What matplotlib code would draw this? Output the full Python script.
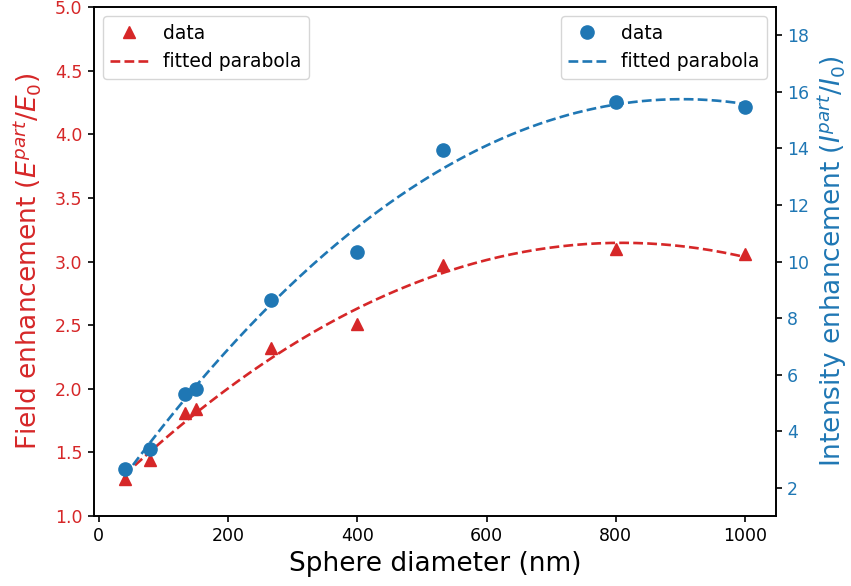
"""Field and intensity enhancement vs sphere diameter, with parabolic fits."""

import numpy as np
import matplotlib
matplotlib.use("Agg")
import matplotlib.pyplot as plt

# sphere diameters (nm)
diameters = [40, 80, 133, 150, 267, 400, 533, 800, 1000]
# field enhancement E_part / E_0
field_enh = [1.29, 1.44, 1.81, 1.84, 2.32, 2.51, 2.97, 3.10, 3.06]
# intensity enhancement I_part / I_0
intensity_enh = [2.65, 3.37, 5.3, 5.5, 8.65, 10.35, 13.95, 15.65, 15.45]

red = "tab:red"
blue = "tab:blue"

x = np.array(diameters)
x_fit = np.linspace(x.min(), x.max(), 200)
field_fit = np.polyval(np.polyfit(x, field_enh, 2), x_fit)
intensity_fit = np.polyval(np.polyfit(x, intensity_enh, 2), x_fit)

plt.rcParams["axes.linewidth"] = 1.2

fig, ax1 = plt.subplots(figsize=(8.51, 5.86), dpi=100)
fig.subplots_adjust(left=0.110, right=0.912, top=0.988, bottom=0.1195)

ax1.plot(x, field_enh, "^", color=red, markersize=8.5, label="data")
ax1.plot(x_fit, field_fit, "--", color=red, lw=1.9, label="fitted parabola")
ax1.set_ylim(1.0, 5.0)
ax1.set_xlabel("Sphere diameter (nm)", fontsize=19)
ax1.set_ylabel(r"Field enhancement ($E^{part}/E_0$)", color=red, fontsize=19, labelpad=8)
ax1.tick_params(axis="y", labelcolor=red, labelsize=12.5, length=4.5, width=1.2)
ax1.tick_params(axis="x", labelsize=12.5, length=4.5, width=1.2)
ax1.legend(loc="upper left", fontsize=13.5)

ax2 = ax1.twinx()
ax2.plot(x, intensity_enh, "o", color=blue, markersize=9.5, label="data")
ax2.plot(x_fit, intensity_fit, "--", color=blue, lw=1.9, label="fitted parabola")
ax2.set_ylim(1.0, 19.0)
ax2.set_yticks(np.arange(2, 19, 2))
ax2.set_ylabel(r"Intensity enhancement ($I^{part}/I_0$)", color=blue, fontsize=19, labelpad=4)
ax2.tick_params(axis="y", labelcolor=blue, labelsize=12.5, length=4.5, width=1.2)
ax2.legend(loc="upper right", fontsize=13.5)

fig.savefig("out.png", dpi=100)
